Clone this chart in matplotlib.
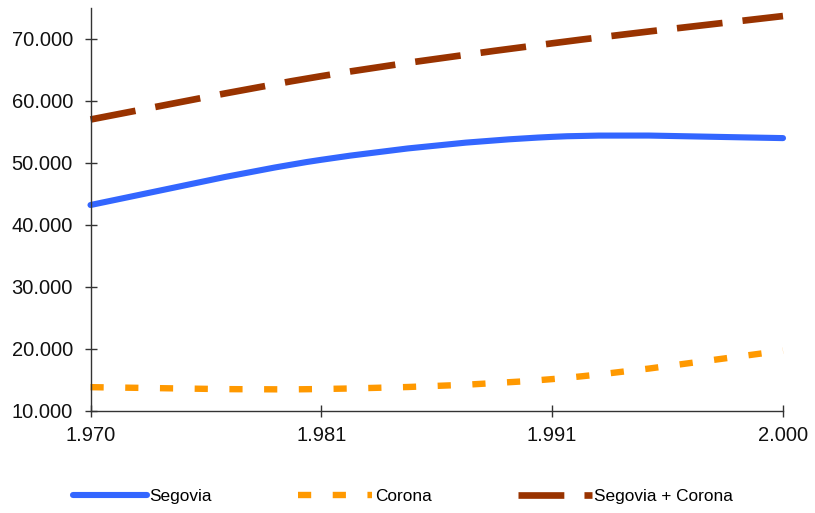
import matplotlib
matplotlib.use("Agg")
import matplotlib.pyplot as plt
from matplotlib.path import Path
from matplotlib.patches import PathPatch
from matplotlib.lines import Line2D
from matplotlib.ticker import FuncFormatter

# ==========================================
# Data
# ==========================================
years = [1970, 1981, 1991, 2000]
segovia = [43200, 50500, 54200, 54000]
corona = [13800, 13500, 15100, 19700]
segovia_corona = [57000, 64000, 69300, 73700]

series_names = ["Segovia", "Corona", "Segovia + Corona"]

plt.rcParams["font.family"] = ["Liberation Sans", "DejaVu Sans"]
plt.rcParams["lines.scale_dashes"] = False


def thousands(v):
    return f"{v:,.0f}".replace(",", ".")


def smooth_path(xs, ys):
    # Excel-style smoothed line: cubic bezier through every point
    n = len(xs)
    verts = [(xs[0], ys[0])]
    codes = [Path.MOVETO]
    for i in range(n - 1):
        i0, i3 = max(i - 1, 0), min(i + 2, n - 1)
        c1 = (xs[i] + (xs[i + 1] - xs[i0]) / 6, ys[i] + (ys[i + 1] - ys[i0]) / 6)
        c2 = (xs[i + 1] - (xs[i3] - xs[i]) / 6, ys[i + 1] - (ys[i3] - ys[i]) / 6)
        verts += [c1, c2, (xs[i + 1], ys[i + 1])]
        codes += [Path.CURVE4] * 3
    return Path(verts, codes)


# ==========================================
# Plotting
# ==========================================
fig = plt.figure(figsize=(8.15, 5.13), dpi=100)
ax = fig.add_axes([90.5 / 815, 1 - 410.7 / 513, (783 - 90.5) / 815, (410.7 - 8) / 513])

x = list(range(len(years)))
styles = [
    dict(color="#3366FF", lw=4.4, ls="-", capstyle="round"),
    dict(color="#FF9900", lw=4.6, ls=(0, (9.5, 15.5)), capstyle="butt"),
    dict(color="#993300", lw=4.8, ls=(0, (33, 14.5)), capstyle="butt"),
]

handles = []
for vals, st, name in zip([segovia, corona, segovia_corona], styles, series_names):
    patch = PathPatch(smooth_path(x, vals), fill=False, edgecolor=st["color"],
                      lw=st["lw"], ls=st["ls"], capstyle=st["capstyle"],
                      joinstyle="round", clip_on=False)
    ax.add_patch(patch)
    handles.append(Line2D([], [], color=st["color"], lw=st["lw"], ls=st["ls"],
                          solid_capstyle=st["capstyle"], dash_capstyle="butt",
                          label=name))

ax.set_xlim(0, len(years) - 1)
ax.set_ylim(10000, 75000)
ax.set_xticks(x)
ax.set_xticklabels([thousands(y) for y in years])
ax.set_yticks(range(10000, 75000, 10000))
ax.yaxis.set_major_formatter(FuncFormatter(lambda v, p: thousands(v)))

for side in ["top", "right"]:
    ax.spines[side].set_visible(False)
for side in ["left", "bottom"]:
    ax.spines[side].set_color("#333333")
    ax.spines[side].set_linewidth(1.0)

ax.tick_params(axis="both", direction="inout", length=8.6, width=1.0,
               color="#333333", labelsize=14.5, labelcolor="#111111")
ax.tick_params(axis="y", pad=8.3)
ax.tick_params(axis="x", pad=7)

fig.legend(handles=handles, loc="center left", bbox_to_anchor=(73 / 815, 1 - 496 / 513),
           ncol=3, frameon=False, fontsize=12.4, handlelength=4.3,
           handletextpad=0.15, columnspacing=5.0, borderaxespad=0, borderpad=0)

plt.savefig("out.png", dpi=100)
plt.close()
